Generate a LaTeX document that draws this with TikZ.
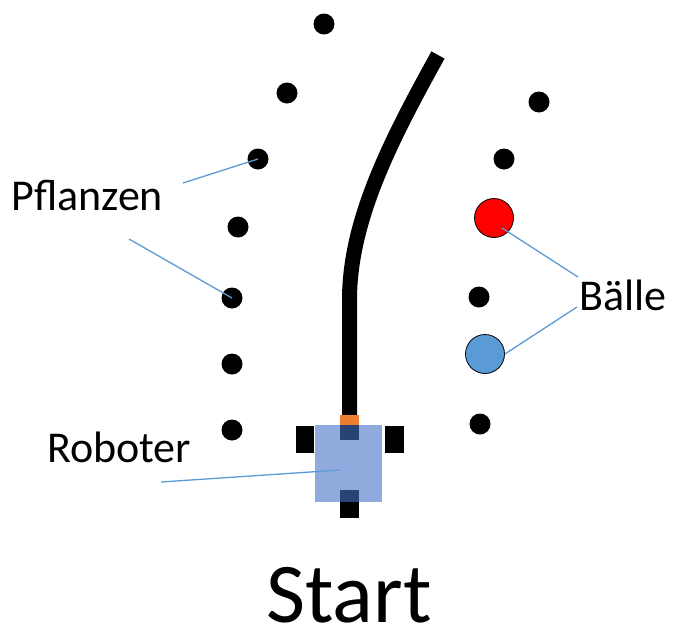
\documentclass[tikz,border=0pt]{standalone}
\usepackage{fontspec}
\setmainfont{Carlito}
\definecolor{leader}{HTML}{5B9BD5}
\definecolor{robotblue}{HTML}{4472C4}
\definecolor{sensor}{HTML}{ED7D31}
\definecolor{ballred}{HTML}{FF0000}
\definecolor{ballblue}{HTML}{5B9BD5}
\begin{document}
\begin{tikzpicture}[x=1pt,y=-1pt,
  plant/.style={circle,fill=black,inner sep=0pt,minimum size=21pt},
  ball/.style={circle,draw=black,line width=0.8pt,inner sep=0pt,minimum size=39pt},
  lbl/.style={font=\fontsize{44}{50}\selectfont,inner sep=0pt,anchor=base west},
  leadline/.style={draw=leader,line width=1.3pt},
  blk/.style={fill=black}]
\useasboundingbox (0,0) rectangle (678,635);
% plants left
\node[plant] (p1) at (324,24) {};
\node[plant] (p2) at (287,93) {};
\node[plant] (p3) at (258,159) {};
\node[plant] (p4) at (238,227) {};
\node[plant] (p5) at (232,298) {};
\node[plant] (p6) at (232,364) {};
\node[plant] (p7) at (232,430) {};
% right
\node[plant] (q1) at (539,102) {};
\node[plant] (q2) at (504,159) {};
\node[ball,fill=ballred] (b1) at (494,218) {};
\node[plant] (q3) at (479,297) {};
\node[ball,fill=ballblue] (b2) at (485,354) {};
\node[plant] (q4) at (480,424) {};
% path
\coordinate (ps) at (349.5,416);
\coordinate (pe) at (438,55);
\draw[line width=15pt,line cap=butt] (ps) -- (349.5,300) .. controls (349.5,220) and (391,140) .. (pe);
% robot
\fill[sensor] (340,415) rectangle (359,425);
\fill[blk] (340,425) rectangle (359,440);
\fill[blk] (340,490) rectangle (359,518);
\fill[blk] (296,426) rectangle (314,453);
\fill[blk] (385,426) rectangle (404,453);
\node[fill=robotblue,fill opacity=0.6,inner sep=0pt,minimum width=67pt,minimum height=77pt] (robot) at (348.5,463.5) {};
\coordinate (rc) at (340,470);
% labels
\node[lbl] (pfl) at (11,210) {Pflanzen};
\node[lbl] (bal) at (579,310) {Bälle};
\node[lbl] (rob) at (47,462) {Roboter};
\node[font=\fontsize{85}{96}\selectfont,inner sep=0pt,anchor=base west] (start) at (266,622) {Start};
% leaders
\coordinate (l1) at (183,183);
\coordinate (l2) at (129,239);
\coordinate (l3) at (578,277);
\coordinate (l4) at (577,307);
\coordinate (l5) at (161,482);
\draw[leadline] (l1) -- (p3.center);
\draw[leadline] (l2) -- (p5.center);
\draw[leadline] (l3) -- (502,228);
\draw[leadline] (l4) -- (b2.east);
\draw[leadline] (l5) -- (rc);
\end{tikzpicture}
\end{document}
